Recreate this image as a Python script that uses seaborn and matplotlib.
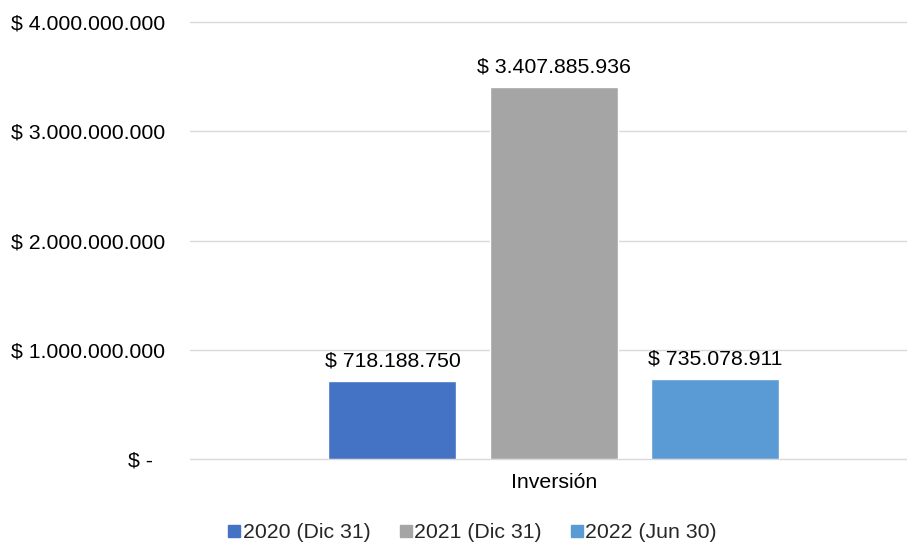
import matplotlib
matplotlib.use("Agg")
import matplotlib.pyplot as plt
import seaborn as sns
import pandas as pd
from matplotlib.ticker import FuncFormatter, MultipleLocator
from matplotlib.lines import Line2D

# --- datos ---
categorias = ["Inversión"]
series = ["2020 (Dic 31)", "2021 (Dic 31)", "2022 (Jun 30)"]
valores = [718188750, 3407885936, 735078911]
colores = ["#4472C4", "#A5A5A5", "#5B9BD5"]

df = pd.DataFrame({
    "categoria": categorias * len(series),
    "serie": series,
    "valor": valores,
})

sns.set_theme(style="white")
plt.rcParams["font.family"] = ["Liberation Sans", "DejaVu Sans"]
fs = 15.3

fig = plt.figure(figsize=(9.07, 5.44), dpi=100)
ax = fig.add_axes([190 / 907, 1 - 459 / 544, 717 / 907, (459 - 22) / 544])

sns.barplot(data=df, x="categoria", y="valor", hue="serie", palette=colores,
            width=0.8, gap=0.207, legend=False, ax=ax, saturation=1)


def miles(v):
    return f"{int(round(v)):,}".replace(",", ".")


for cont in ax.containers:
    ax.bar_label(cont, labels=[f"$ {miles(b.get_height())}" for b in cont],
                 padding=7, fontsize=fs, color="#000000")

ax.set_ylim(0, 4e9)
ax.set_xlim(-0.601, 0.583)
ax.yaxis.set_major_locator(MultipleLocator(1e9))
ax.yaxis.set_major_formatter(FuncFormatter(
    lambda v, p: "$ -  " if v == 0 else f"$ {miles(v)}"))
ax.grid(axis="y", color="#D9D9D9", linewidth=1)
for gl in ax.get_ygridlines():
    gl.set_clip_on(False)
ax.set_axisbelow(True)
for s in ax.spines.values():
    s.set_visible(False)
ax.tick_params(axis="both", length=0, labelsize=fs, colors="#000000")
ax.tick_params(axis="y", pad=18)
ax.tick_params(axis="x", pad=10)
ax.set_xlabel("")
ax.set_ylabel("")

handles = [Line2D([0], [0], marker="s", linestyle="", markersize=9,
                  markerfacecolor=c, markeredgecolor=c) for c in colores]
fig.legend(handles, series, loc="lower center", bbox_to_anchor=(472 / 907, -0.02),
           ncol=3, frameon=False, fontsize=fs, handletextpad=0.05,
           columnspacing=1.3, handlelength=0.7, borderpad=0.1)

fig.savefig("out.png", dpi=100)
